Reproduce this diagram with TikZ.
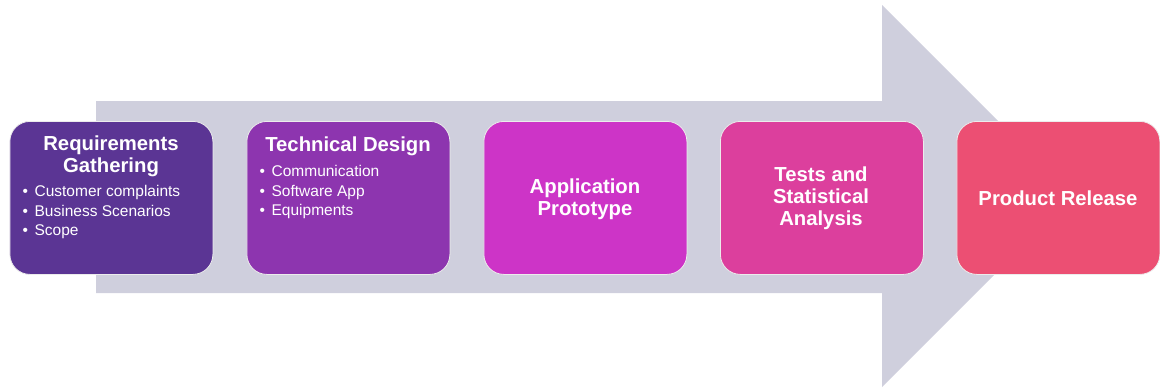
\documentclass[tikz,border=0pt]{standalone}
\usepackage{fontspec}
\setmainfont{Liberation Sans}
\definecolor{arrowgrey}{HTML}{CFCFDD}
\definecolor{cA}{HTML}{5B3594}
\definecolor{cB}{HTML}{8D35AF}
\definecolor{cC}{HTML}{CD34C7}
\definecolor{cD}{HTML}{DC3F9D}
\definecolor{cE}{HTML}{EC4F73}
\tikzset{
  stagebox/.style={draw=white!85!gray, line width=0.8pt, rounded corners=20pt,
    minimum width=203pt, minimum height=153pt, inner sep=0pt, anchor=north west},
  titletext/.style={text=white, font=\fontsize{20.3}{22}\selectfont\bfseries, align=center, inner sep=0pt},
  bullettext/.style={text=white, font=\fontsize{15.5}{19.4}\selectfont, align=left, inner sep=0pt, anchor=north west},
}
\begin{document}
\begin{tikzpicture}[x=1pt,y=-1pt]
\useasboundingbox (0,0) rectangle (1160,388);
% big arrow
\fill[arrowgrey] (96,101) -- (882,101) -- (882,5) -- (1073,196) -- (882,387) -- (882,293) -- (96,293) -- cycle;
% boxes
\node[stagebox, fill=cA] (b1) at (9.5,121) {};
\node[stagebox, fill=cB] (b2) at (246.5,121) {};
\node[stagebox, fill=cC] (b3) at (483.5,121) {};
\node[stagebox, fill=cD] (b4) at (720,121) {};
\node[stagebox, fill=cE] (b5) at (956.5,121) {};
% texts
\node[titletext] (t1) at (111,156) {Requirements\\Gathering};
\node[bullettext] (l1) at (22.5,185.5) {\textbullet\hspace{6.5pt}Customer complaints\\\textbullet\hspace{6.5pt}Business Scenarios\\\textbullet\hspace{6.5pt}Scope};
\node[titletext] (t2) at (348,146) {Technical Design};
\node[bullettext] (l2) at (259.5,165.5) {\textbullet\hspace{6.5pt}Communication\\\textbullet\hspace{6.5pt}Software App\\\textbullet\hspace{6.5pt}Equipments};
\node[titletext] (t3) at (585,199) {Application\\Prototype};
\node[titletext] (t4) at (821,198.5) {Tests and\\Statistical\\Analysis};
\node[titletext] (t5) at (1058,198) {Product Release};
\end{tikzpicture}
\end{document}
